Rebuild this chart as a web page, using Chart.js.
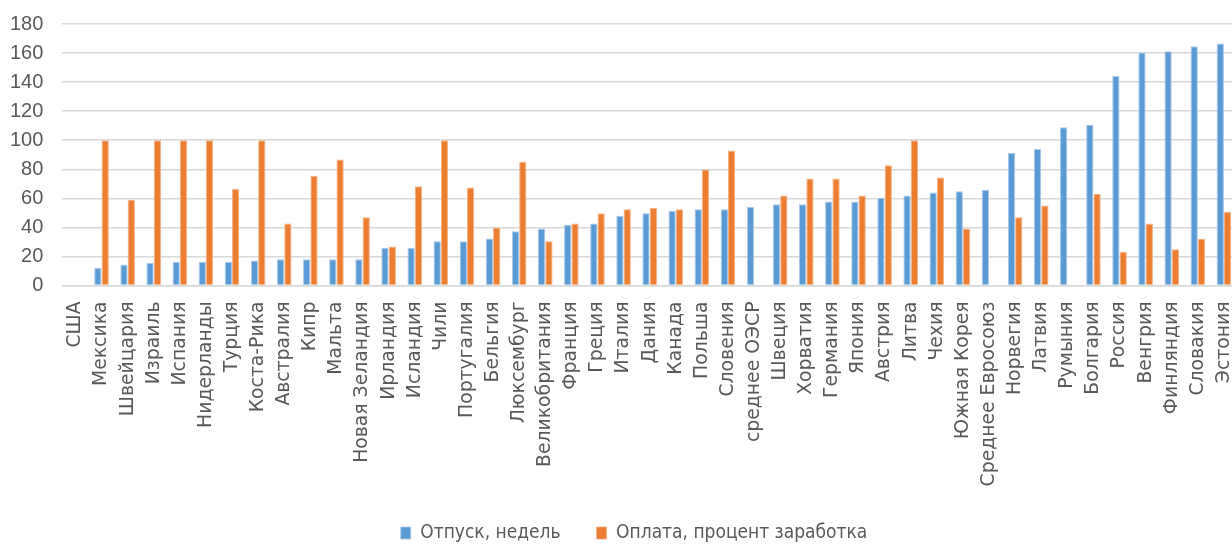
<!DOCTYPE html>
<html>
<head>
<meta charset="utf-8">
<script src="https://cdn.jsdelivr.net/npm/chart.js@4/dist/chart.umd.min.js"></script>
<style>
  html, body { margin: 0; padding: 0; background: #fff; overflow: hidden; }
  #wrap { position: absolute; left: 0; top: 0; width: 1268px; height: 544px; }
</style>
</head>
<body>
<div id="wrap"><canvas id="leaveChart"></canvas></div>
<script>
// countries, in the order of the source chart
var countries = ['США', 'Мексика', 'Швейцария', 'Израиль', 'Испания', 'Нидерланды', 'Турция',
    'Коста-Рика', 'Австралия', 'Кипр', 'Мальта', 'Новая Зеландия', 'Ирландия', 'Исландия', 'Чили',
    'Португалия', 'Бельгия', 'Люксембург', 'Великобритания', 'Франция', 'Греция', 'Италия', 'Дания',
    'Канада', 'Польша', 'Словения', 'среднее ОЭСР', 'Швеция', 'Хорватия', 'Германия', 'Япония',
    'Австрия', 'Литва', 'Чехия', 'Южная Корея', 'Среднее Евросоюз', 'Норвегия', 'Латвия', 'Румыния',
    'Болгария', 'Россия', 'Венгрия', 'Финляндия', 'Словакия', 'Эстония'];

// leave, weeks
var leaveWeeks = [null, 12, 14.5, 15.5, 16.3, 16.3, 16.3, 17.2, 18, 18, 18, 18, 26, 26, 30.5,
    30.5, 32.4, 37.4, 39.3, 41.8, 42.7, 48, 49.8, 51.4, 52.4, 52.4, 54.2, 56, 56, 57.9, 57.9,
    60.4, 62, 64, 64.8, 65.7, 91.4, 93.9, 109, 110.7, 144.2, 160.3, 161.2, 164.6, 166.5];

// pay, percent of earnings
var payPercent = [null, 100, 58.8, 100, 100, 100, 66.6, 100, 42.7, 75.5, 86.8, 47, 26.9, 68.4, 100,
    67.5, 40, 85.2, 30.5, 42.7, 49.8, 52.4, 53.3, 52.4, 79.9, 93, null, 62, 73.7, 73.7, 62,
    82.7, 100, 74.4, 39.3, null, 47, 55.1, null, 62.9, 23.2, 42.7, 25, 32.1, 50.7];

var yTicks = [0, 20, 40, 60, 80, 100, 120, 140, 160, 180];

document.addEventListener('DOMContentLoaded', function() {
    var ctx = document.getElementById('leaveChart').getContext('2d');

    new Chart(ctx, {
        type: 'bar',
        data: {
            labels: countries,
            datasets: [{
                label: 'Отпуск, недель',
                data: leaveWeeks,
                backgroundColor: '#5B9BD5',
                borderColor: '#a9c9ea',
                borderWidth: { left: 1, right: 1, top: 1, bottom: 0 },
                barPercentage: 1,
                categoryPercentage: 0.56
            }, {
                label: 'Оплата, процент заработка',
                data: payPercent,
                backgroundColor: '#ED7D31',
                borderColor: '#f4b183',
                borderWidth: { left: 1, right: 1, top: 1, bottom: 0 },
                barPercentage: 1,
                categoryPercentage: 0.56
            }]
        },
        options: {
            responsive: true,
            maintainAspectRatio: false,
            animation: false,
            layout: {
                padding: { top: 24, left: 10, right: 10, bottom: 0 }
            },
            plugins: {
                tooltip: { enabled: false },
                legend: {
                    position: 'bottom',
                    maxHeight: 56.5,
                    labels: {
                        color: '#595959',
                        boxWidth: 10,
                        boxHeight: 12,
                        padding: 36,
                        font: { family: "'Liberation Sans Narrow', 'DejaVu Sans Condensed', sans-serif", size: 19 }
                    }
                }
            },
            scales: {
                x: {
                    afterFit: function(scale) {
                        scale.height = 202;
                        scale.paddingLeft = 0;
                        // keeps the plot's right edge while the legend stays centred on the canvas
                        scale.paddingRight = 31;
                    },
                    // invisible tick marks give the gap under the axis
                    grid: { display: true, drawOnChartArea: false, drawTicks: true, tickLength: 16, tickColor: 'rgba(0,0,0,0)' },
                    border: { display: true, color: '#d9d9d9', width: 1.5 },
                    ticks: {
                        autoSkip: false,
                        maxRotation: 90,
                        minRotation: 90,
                        padding: 0,
                        color: '#595959',
                        font: { family: "'DejaVu Sans', sans-serif", size: 18.8 }
                    }
                },
                y: {
                    min: 0,
                    max: 180,
                    afterBuildTicks: function(axis) {
                        axis.ticks = yTicks.map(function(v) { return { value: v }; });
                    },
                    grid: { color: '#d9d9d9', lineWidth: 1.5, drawTicks: true, tickLength: 19, tickColor: 'rgba(0,0,0,0)' },
                    border: { display: false },
                    ticks: {
                        padding: 0,
                        color: '#595959',
                        font: { family: "'Liberation Sans', sans-serif", size: 20 }
                    }
                }
            }
        }
    });
});
</script>
</body>
</html>
